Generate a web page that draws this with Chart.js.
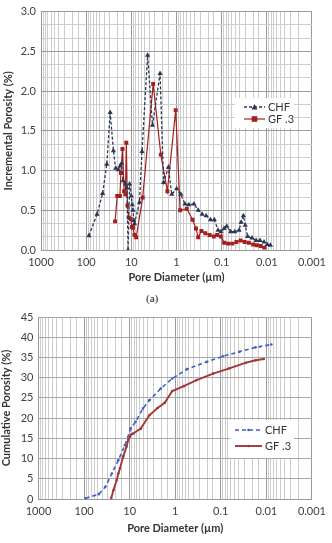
<!DOCTYPE html>
<html lang="en">
    <head>
        <meta charset="UTF-8">
        <title>Pore size distribution</title>
        <script src="https://cdn.jsdelivr.net/npm/chart.js"></script>
        <style>
            body {
                margin: 0;
                background: #fff;
                width: 332px;
                height: 543px;
                position: relative;
                overflow: hidden;
            }
            .box {
                position: absolute;
                left: 0;
            }
            #topBox { top: 0; width: 332px; height: 286px; }
            #bottomBox { top: 305px; width: 332px; height: 232px; }
            #caption {
                position: absolute;
                left: 146px;
                top: 292px;
                font-family: "Liberation Serif", serif;
                font-size: 11px;
                color: #222;
            }
        </style>
    </head>
    <body>
        <div class="box" id="topBox"><canvas id="incChart" width="332" height="286"></canvas></div>
        <div id="caption">(a)</div>
        <div class="box" id="bottomBox"><canvas id="cumChart" width="332" height="232"></canvas></div>

        <script>
            // x axis (pore diameter, µm) decade labels
            const xTickLabels = ['1000', '100', '10', '1', '0.1', '0.01', '0.001'];

            // (a) incremental porosity (%)
            const chfIncDiam = [86.9, 57.4, 43.2, 34.9, 29.4, 24.9, 22.2, 19.5, 17.6, 16.5, 15.2, 13.5, 12.5, 11.8, 10.9, 10.0, 9.5, 9.2, 8.8, 8.5,
                6.6, 5.8, 4.35, 3.40, 2.31, 1.93, 1.51, 1.27, 0.99, 0.80, 0.65, 0.53, 0.41, 0.33, 0.27, 0.22, 0.176, 0.145, 0.12, 0.104,
                0.088, 0.077, 0.063, 0.051, 0.041, 0.037, 0.033, 0.030, 0.0265, 0.0213, 0.0172, 0.0141, 0.0115, 0.0098, 0.0083];
            const chfInc = [0.18, 0.45, 0.71, 1.08, 1.73, 1.25, 1.03, 1.01, 1.06, 1.09, 0.87, 0.83, 0.78, 0.0, 0.83, 0.68, 0.57, 0.50, 0.37, 0.33,
                0.60, 1.24, 2.45, 1.57, 2.22, 0.85, 1.04, 0.70, 0.77, 0.70, 0.58, 0.57, 0.58, 0.50, 0.45, 0.43, 0.38, 0.38, 0.25, 0.23,
                0.27, 0.30, 0.23, 0.23, 0.25, 0.35, 0.43, 0.31, 0.17, 0.15, 0.12, 0.12, 0.10, 0.07, 0.06];

            const gfIncDiam = [22.9, 20.5, 17.9, 17.0, 15.7, 14.4, 13.5, 12.9, 12.2, 11.4, 10.3, 9.7, 9.2, 8.5, 7.8, 5.6, 3.28, 2.22, 1.59, 1.04,
                0.83, 0.59, 0.44, 0.37, 0.33, 0.28, 0.23, 0.185, 0.149, 0.126, 0.104, 0.088, 0.072, 0.058, 0.047, 0.038, 0.031, 0.025, 0.020,
                0.0166, 0.0136, 0.0114];
            const gfInc = [0.36, 0.68, 0.68, 0.97, 1.27, 0.74, 0.70, 1.35, 0.56, 0.41, 0.39, 0.29, 0.28, 0.19, 0.16, 0.66, 2.09, 1.20, 0.74, 1.76,
                0.50, 0.52, 0.38, 0.27, 0.16, 0.24, 0.21, 0.19, 0.17, 0.19, 0.17, 0.09, 0.08, 0.08, 0.10, 0.12, 0.10, 0.09, 0.07,
                0.06, 0.05, 0.03];
            const incTicks = [0, 0.5, 1.0, 1.5, 2.0, 2.5, 3.0];

            // (b) cumulative porosity (%)
            const chfCumDiam = [91.9, 47.6, 34.1, 24.6, 17.7, 12.7, 9.4, 7.4, 5.1, 3.7, 2.07, 1.16, 0.55, 0.205, 0.090, 0.039, 0.0172, 0.0078];
            const chfCum = [0.2, 1.2, 3.0, 6.3, 9.6, 13.3, 17.5, 19.1, 22.4, 24.4, 27.3, 29.8, 32.1, 33.9, 35.3, 36.4, 37.5, 38.2];

            const gfCumDiam = [25.4, 22.6, 19.2, 17.7, 16.3, 13.8, 11.7, 10.8, 9.9, 9.1, 8.4, 5.7, 3.7, 2.44, 1.70, 1.16, 0.65, 0.34, 0.147,
                0.065, 0.028, 0.0172, 0.0114];
            const gfCum = [0.2, 2.2, 4.7, 6.3, 7.6, 10.6, 12.9, 14.6, 15.4, 16.0, 16.2, 17.4, 20.7, 22.5, 23.8, 26.7, 27.9, 29.4, 31.0,
                32.3, 33.7, 34.3, 34.6];
            const cumTicks = [0, 5, 10, 15, 20, 25, 30, 35, 40, 45];

            const seriesNames = ['CHF', 'GF .3'];

            Chart.defaults.font.family = 'Lato, "Open Sans", sans-serif';
            Chart.defaults.font.size = 11;
            Chart.defaults.color = '#404040';

            const toPoints = (xs, ys) => xs.map((x, i) => ({ x: x, y: ys[i] }));

            function isDecade(v) {
                if (!v) return false;
                const e = Math.log10(v);
                return Math.abs(e - Math.round(e)) < 1e-6;
            }

            function xAxis(height) {
                return {
                    type: 'logarithmic',
                    reverse: true,
                    min: 0.001,
                    max: 1000,
                    afterFit: (scale) => { scale.height = height; },
                    ticks: {
                        autoSkip: false,
                        maxRotation: 0,
                        padding: 6,
                        callback: (v) => isDecade(v) ? xTickLabels[3 - Math.round(Math.log10(v))] : ''
                    },
                    grid: {
                        drawTicks: false,
                        color: (c) => isDecade(c.tick && c.tick.value) ? '#9a9a9a' : '#cdcdcd',
                        lineWidth: 1
                    },
                    border: { color: '#9a9a9a' },
                    title: {
                        display: true,
                        text: 'Pore Diameter (µm)',
                        font: { weight: 'bold', size: 11 },
                        color: '#333',
                        padding: { top: 0, bottom: 2 }
                    }
                };
            }

            // small legend box drawn inside the plot
            const insetLegend = {
                id: 'insetLegend',
                afterDatasetsDraw(chart, args, o) {
                    const ctx = chart.ctx;
                    ctx.save();
                    ctx.fillStyle = '#fff';
                    ctx.fillRect(o.x, o.y, o.w, o.h);
                    chart.data.datasets.forEach((ds, i) => {
                        const y = o.y + o.first + i * o.gap;
                        const x0 = o.x + o.line0, x1 = o.x + o.line1, xm = (x0 + x1) / 2;
                        ctx.strokeStyle = ds.borderColor;
                        ctx.lineWidth = ds.borderWidth;
                        ctx.setLineDash(ds.borderDash || []);
                        ctx.beginPath();
                        ctx.moveTo(x0, y);
                        ctx.lineTo(x1, y);
                        ctx.stroke();
                        ctx.setLineDash([]);
                        ctx.fillStyle = ds.pointBackgroundColor;
                        const r = ds.pointRadius;
                        ctx.beginPath();
                        if (ds.pointStyle === 'triangle') {
                            ctx.moveTo(xm, y - r);
                            ctx.lineTo(xm + r, y + r * 0.8);
                            ctx.lineTo(xm - r, y + r * 0.8);
                            ctx.closePath();
                        } else if (ds.pointStyle === 'rect') {
                            ctx.rect(xm - r, y - r, 2 * r, 2 * r);
                        } else {
                            ctx.arc(xm, y, r, 0, Math.PI * 2);
                        }
                        ctx.fill();
                        ctx.fillStyle = '#333';
                        ctx.font = '11px Lato, "Open Sans", sans-serif';
                        ctx.textBaseline = 'middle';
                        ctx.fillText(ds.label, o.x + o.textX, y);
                    });
                    ctx.restore();
                }
            };

            new Chart(document.getElementById('incChart'), {
                type: 'scatter',
                data: {
                    datasets: [{
                        label: seriesNames[0],
                        data: toPoints(chfIncDiam, chfInc),
                        showLine: true,
                        borderColor: '#2a3854',
                        backgroundColor: '#2a3854',
                        pointBackgroundColor: '#2a3854',
                        borderWidth: 1.3,
                        borderDash: [3, 2],
                        pointStyle: 'triangle',
                        pointRadius: 3,
                        pointBorderWidth: 0
                    }, {
                        label: seriesNames[1],
                        data: toPoints(gfIncDiam, gfInc),
                        showLine: true,
                        borderColor: '#a61f1f',
                        backgroundColor: '#a61f1f',
                        pointBackgroundColor: '#a61f1f',
                        borderWidth: 1.2,
                        pointStyle: 'rect',
                        pointRadius: 2.8,
                        pointBorderWidth: 0
                    }]
                },
                options: {
                    responsive: false,
                    animation: false,
                    layout: { padding: { left: 0, right: 14, top: 8, bottom: 0 } },
                    plugins: {
                        legend: { display: false },
                        tooltip: { enabled: false },
                        insetLegend: { x: 235, y: 98, w: 59, h: 30, first: 9, gap: 12, line0: 9, line1: 30, textX: 33 }
                    },
                    scales: {
                        x: xAxis(36),
                        y: {
                            min: 0,
                            max: 3,
                            afterFit: (scale) => { scale.width = 41; },
                            afterBuildTicks: (scale) => {
                                const t = [];
                                incTicks.forEach((v, i) => {
                                    t.push({ value: v });
                                    if (i < incTicks.length - 1) {
                                        const step = (incTicks[i + 1] - v) / 3;
                                        t.push({ value: v + step }, { value: v + 2 * step });
                                    }
                                });
                                scale.ticks = t;
                            },
                            ticks: {
                                autoSkip: false,
                                padding: 5,
                                callback: (v) => incTicks.some(m => Math.abs(m - v) < 1e-6) ? v.toFixed(1) : ''
                            },
                            grid: {
                                drawTicks: false,
                                color: (c) => incTicks.some(m => Math.abs(m - c.tick.value) < 1e-6) ? '#9a9a9a' : '#cdcdcd'
                            },
                            border: { color: '#9a9a9a' },
                            title: {
                                display: true,
                                text: 'Incremental Porosity (%)',
                                font: { weight: 'bold', size: 11 },
                                color: '#333',
                                padding: { top: 2, bottom: 2 }
                            }
                        }
                    }
                },
                plugins: [insetLegend]
            });

            new Chart(document.getElementById('cumChart'), {
                type: 'scatter',
                data: {
                    datasets: [{
                        label: seriesNames[0],
                        data: toPoints(chfCumDiam, chfCum),
                        showLine: true,
                        borderColor: '#3d5fc4',
                        backgroundColor: '#3d5fc4',
                        pointBackgroundColor: '#3d5fc4',
                        borderWidth: 1.6,
                        borderDash: [4, 3],
                        pointRadius: 1.3,
                        pointBorderWidth: 0
                    }, {
                        label: seriesNames[1],
                        data: toPoints(gfCumDiam, gfCum),
                        showLine: true,
                        borderColor: '#a33636',
                        backgroundColor: '#a33636',
                        pointBackgroundColor: '#a33636',
                        borderWidth: 1.9,
                        pointRadius: 1.3,
                        pointBorderWidth: 0
                    }]
                },
                options: {
                    responsive: false,
                    animation: false,
                    layout: { padding: { left: 0, right: 14, top: 12, bottom: 0 } },
                    plugins: {
                        legend: { display: false },
                        tooltip: { enabled: false },
                        insetLegend: { x: 230, y: 115, w: 64, h: 38, first: 10, gap: 16, line0: 5, line1: 32, textX: 35 }
                    },
                    scales: {
                        x: xAxis(38),
                        y: {
                            min: 0,
                            max: 45,
                            afterFit: (scale) => { scale.width = 38.5; },
                            afterBuildTicks: (scale) => { scale.ticks = cumTicks.map(v => ({ value: v })); },
                            ticks: { autoSkip: false, padding: 5 },
                            grid: { drawTicks: false, color: '#a8a8a8' },
                            border: { color: '#9a9a9a' },
                            title: {
                                display: true,
                                text: 'Cumulative Porosity (%)',
                                font: { weight: 'bold', size: 11 },
                                color: '#333',
                                padding: { top: 0, bottom: 2 }
                            }
                        }
                    }
                },
                plugins: [insetLegend]
            });
        </script>
    </body>
</html>
